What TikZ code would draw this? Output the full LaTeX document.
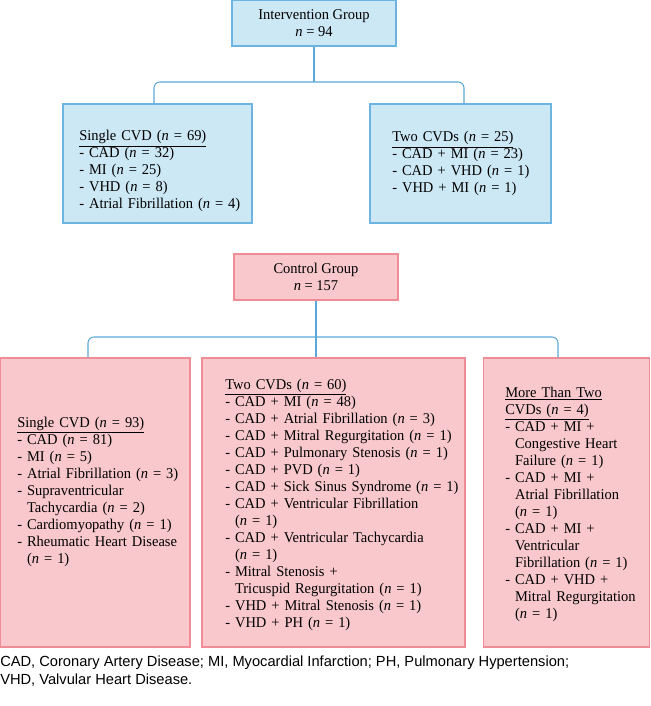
\documentclass[tikz,border=0pt]{standalone}
\usepackage{fontspec}
\setmainfont{Liberation Serif}[FakeStretch=0.97]
\newfontfamily\notefont{Liberation Sans}
\usepackage{xcolor}
\usepackage{tikz}

\definecolor{ibox}{RGB}{204,232,244}
\definecolor{iline}{RGB}{110,180,224}
\definecolor{cbox}{RGB}{248,200,204}
\definecolor{cline}{RGB}{240,140,150}
\definecolor{bus}{RGB}{90,168,216}

\newcommand{\nval}[1]{(\textit{n} = #1)}
\newcommand{\hang}{\phantom{- }}

\begin{document}
\begin{tikzpicture}[x=0.75pt,y=0.75pt,yscale=-1,xscale=1,
  bluebox/.style={draw=iline,fill=ibox,line width=0.9pt,inner sep=0pt},
  pinkbox/.style={draw=cline,fill=cbox,line width=0.9pt,inner sep=0pt},
  list/.style={anchor=base west,inner sep=0pt,text width=#1,align=left,
    font=\fontsize{11.2}{12.75}\selectfont},
  link/.style={draw=bus,line width=0.8pt,rounded corners=4.5pt}]

\useasboundingbox (0,0) rectangle (650,706);

% intervention arm
\node [bluebox,minimum width=164*0.75pt,minimum height=46*0.75pt,align=center,
  font=\fontsize{11.2}{12.75}\selectfont] (ig) at (314,23) {Intervention Group\\\textit{n} = 94};
\node [bluebox,minimum width=189*0.75pt,minimum height=119*0.75pt] (is) at (157.5,163.5) {};
\node [bluebox,minimum width=181*0.75pt,minimum height=119*0.75pt] (it) at (460.5,163.5) {};

\node [list=170*0.75pt] (ist) at (79,141) {\underline{Single CVD \nval{69}}\\
- CAD \nval{32}\\
- MI \nval{25}\\
- VHD \nval{8}\\
- Atrial Fibrillation \nval{4}};
\node [list=160*0.75pt] (itt) at (392,142) {\underline{Two CVDs \nval{25}}\\
- CAD + MI \nval{23}\\
- CAD + VHD \nval{1}\\
- VHD + MI \nval{1}};

\coordinate (ibus) at (314,82);
\draw [link] (ig.south) -- (ibus);
\draw [link] ([shift={(-3.5,0)}]is.north) |- (ibus) -| ([shift={(3.5,0)}]it.north);

% control arm
\node [pinkbox,minimum width=164*0.75pt,minimum height=46*0.75pt,align=center,
  font=\fontsize{11.2}{12.75}\selectfont] (cg) at (316,277) {Control Group\\\textit{n} = 157};
\node [pinkbox,minimum width=190*0.75pt,minimum height=289*0.75pt] (cs) at (95,502.5) {};
\node [pinkbox,minimum width=263*0.75pt,minimum height=289*0.75pt] (ct) at (333.5,502.5) {};
\node [pinkbox,minimum width=166*0.75pt,minimum height=289*0.75pt] (cm) at (566.5,502.5) {};

\node [list=172*0.75pt] (cst) at (17,427) {\underline{Single CVD \nval{93}}\\
- CAD \nval{81}\\
- MI \nval{5}\\
- Atrial Fibrillation \nval{3}\\
- Supraventricular\\
\hang Tachycardia \nval{2}\\
- Cardiomyopathy \nval{1}\\
- Rheumatic Heart Disease\\
\hang\nval{1}};
\node [list=238*0.75pt] (ctt) at (225,389) {\underline{Two CVDs \nval{60}}\\
- CAD + MI \nval{48}\\
- CAD + Atrial Fibrillation \nval{3}\\
- CAD + Mitral Regurgitation \nval{1}\\
- CAD + Pulmonary Stenosis \nval{1}\\
- CAD + PVD \nval{1}\\
- CAD + Sick Sinus Syndrome \nval{1}\\
- CAD + Ventricular Fibrillation\\
\hang\nval{1}\\
- CAD + Ventricular Tachycardia\\
\hang\nval{1}\\
- Mitral Stenosis +\\
\hang Tricuspid Regurgitation \nval{1}\\
- VHD + Mitral Stenosis \nval{1}\\
- VHD + PH \nval{1}};
\node [list=142*0.75pt] (cmt) at (505,397) {\underline{More Than Two}\\
\underline{CVDs \nval{4}}\\
- CAD + MI +\\
\hang Congestive Heart\\
\hang Failure \nval{1}\\
- CAD + MI +\\
\hang Atrial Fibrillation\\
\hang\nval{1}\\
- CAD + MI +\\
\hang Ventricular\\
\hang Fibrillation \nval{1}\\
- CAD + VHD +\\
\hang Mitral Regurgitation\\
\hang\nval{1}};

\coordinate (cbus) at (316,337);
\draw [link] (cg.south) -- (cbus) -- (cbus |- ct.north);
\draw [link] ([shift={(-7,0)}]cs.north) |- (cbus) -| ([shift={(-8.5,0)}]cm.north);

% abbreviations
\node [anchor=base west,inner sep=0pt,align=left,font=\notefont\fontsize{11}{13.5}\selectfont] (note) at (0,684)
  {CAD, Coronary Artery Disease; MI, Myocardial Infarction; PH, Pulmonary Hypertension;\\
VHD, Valvular Heart Disease.};

\end{tikzpicture}
\end{document}
